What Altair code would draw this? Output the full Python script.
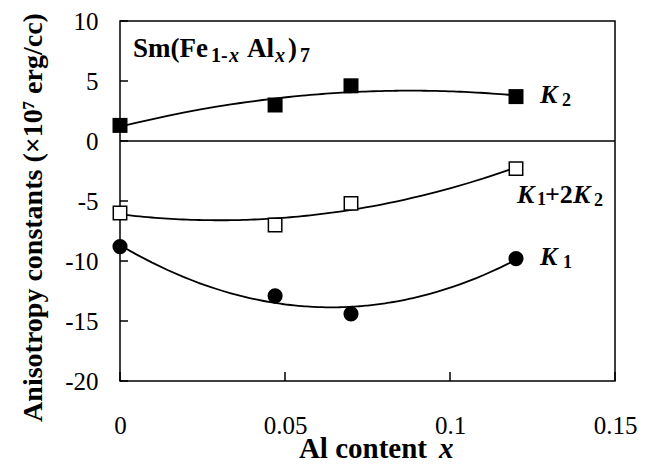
import altair as alt
import pandas as pd

# ---- data ----
x_content = [0.0, 0.047, 0.07, 0.12]
K2 = [1.3, 3.0, 4.6, 3.7]
K1_2K2 = [-6.0, -7.0, -5.2, -2.3]
K1 = [-8.8, -12.9, -14.4, -9.8]
series_names = ["K2", "K1+2K2", "K1"]
y_ticks = [10, 5, 0, -5, -10, -15, -20]
x_ticks = [0, 0.05, 0.1, 0.15]

rows = []
for name, vals in zip(series_names, [K2, K1_2K2, K1]):
    for xv, yv in zip(x_content, vals):
        rows.append({"x": xv, "y": yv, "series": name})
df = pd.DataFrame(rows)
ytick_df = pd.DataFrame({"v": y_ticks})
xtick_df = pd.DataFrame({"v": x_ticks})
one = pd.DataFrame({"_": [0]})

FONT = "'Liberation Serif', 'Times New Roman', Times, 'DejaVu Serif', serif"
W, H = 495, 360

xscale = alt.Scale(domain=[0, 0.15], nice=False, zero=False)
yscale = alt.Scale(domain=[-20, 10], nice=False, zero=False)
xaxis = alt.Axis(values=x_ticks, title=None, labelExpr="datum.value + ''",
                 labelFont=FONT, labelFontSize=25, labelColor="black",
                 labelPadding=32, ticks=False, domain=False, grid=False,
                 labelFlush=False, labelOverlap=False)
yaxis = alt.Axis(values=y_ticks, title="Anisotropy constants (×10⁷ erg/cc)",
                 labelExpr="datum.value + ''", labelFont=FONT, labelFontSize=25,
                 labelColor="black", labelPadding=22, ticks=False, domain=False,
                 grid=False, labelFlush=False, labelOverlap=False,
                 titleFont=FONT, titleFontSize=28, titleFontWeight="bold",
                 titleColor="black", titleAngle=270, titleX=-79, titleY=196,
                 titleAlign="center", titleBaseline="alphabetic")


def X(field):
    return alt.X(field, type="quantitative", scale=xscale, axis=xaxis)


def Y(field):
    return alt.Y(field, type="quantitative", scale=yscale, axis=yaxis)


base = alt.Chart(df)

curves = base.transform_regression(
    "x", "y", method="poly", order=2, groupby=["series"], extent=[0, 0.12]
).mark_line(color="black", strokeWidth=1.8).encode(
    x=X("x"), y=Y("y"), detail="series:N")

zero_line = alt.Chart(one).mark_rule(color="black", strokeWidth=1.5).encode(
    y=alt.Y(datum=0, type="quantitative", scale=yscale, axis=yaxis))

ytick_marks = alt.Chart(ytick_df).mark_rule(color="black", strokeWidth=1.5).encode(
    y=Y("v"), x=alt.value(0), x2=alt.value(8))
xtick_marks = alt.Chart(xtick_df).mark_rule(color="black", strokeWidth=1.5).encode(
    x=X("v"), y=alt.value(H), y2=alt.value(H - 9))

pts_k2 = base.transform_filter("datum.series == 'K2'").mark_square(
    size=225, color="black", opacity=1).encode(x=X("x"), y=Y("y"))
pts_k12 = base.transform_filter("datum.series == 'K1+2K2'").mark_square(
    size=180, fill="white", stroke="black", strokeWidth=1.5, opacity=1).encode(
    x=X("x"), y=Y("y"))
pts_k1 = base.transform_filter("datum.series == 'K1'").mark_circle(
    size=230, color="black", opacity=1).encode(x=X("x"), y=Y("y"))


def end_label(series, text, dx, dy, size, italic):
    props = dict(text=text, font=FONT, fontSize=size, fontWeight="bold",
                 align="left", baseline="alphabetic", dx=dx, dy=dy, color="black")
    if italic:
        props["fontStyle"] = "italic"
    return base.transform_filter(
        f"datum.series == '{series}' && datum.x == 0.12"
    ).mark_text(**props).encode(x=X("x"), y=Y("y"))


labels = [
    end_label("K2", "K", 24, 6, 26, True),
    end_label("K2", "2", 46, 9, 18, False),
    end_label("K1+2K2", "K", 1, 34, 26, True),
    end_label("K1+2K2", "1", 21, 36, 18, False),
    end_label("K1+2K2", "+2", 29, 34, 26, False),
    end_label("K1+2K2", "K", 57, 34, 26, True),
    end_label("K1+2K2", "2", 78, 37, 18, False),
    end_label("K1", "K", 24, 6, 26, True),
    end_label("K1", "1", 47, 9, 18, False),
]


def free_text(text, px, py, size, italic=False, align="left"):
    props = dict(text=text, font=FONT, fontSize=size, fontWeight="bold",
                 align=align, baseline="alphabetic", color="black")
    if italic:
        props["fontStyle"] = "italic"
    return alt.Chart(one).mark_text(**props).encode(x=alt.value(px), y=alt.value(py))


formula = [
    free_text("Sm(Fe", 13, 36, 27),
    free_text("1-", 91, 41, 20),
    free_text("x", 109, 41, 20, italic=True),
    free_text("Al", 127, 36, 27),
    free_text("x", 155, 41, 20, italic=True),
    free_text(")", 168, 36, 27),
    free_text("7", 180, 41, 20),
]

xtitle = [
    free_text("Al content", 307, 437, 29, align="right"),
    free_text("x", 319, 437, 29, italic=True),
]

chart = alt.layer(
    curves, zero_line, ytick_marks, xtick_marks, pts_k2, pts_k12, pts_k1,
    *labels, *formula, *xtitle
).properties(
    width=W, height=H,
    padding={"left": 112, "top": 13, "right": 31, "bottom": 83},
    autosize=alt.AutoSizeParams(type="none"),
    background="white",
).configure_view(stroke="black", strokeWidth=1.5)

chart.save("out.html", embed_options={"renderer": "svg", "actions": False})
